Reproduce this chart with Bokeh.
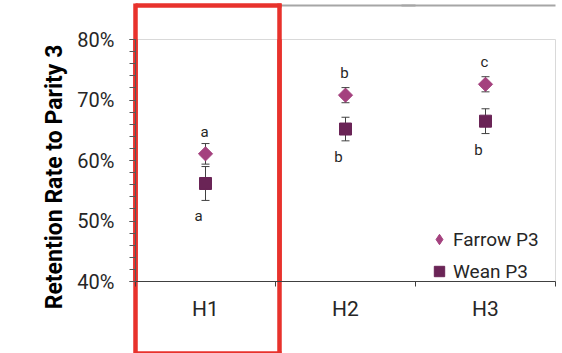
import numpy as np
from bokeh.plotting import figure
from bokeh.models import (Range1d, FixedTicker, NumeralTickFormatter, ColumnDataSource,
                          Whisker, TeeHead, Label, Legend, LegendItem, LinearAxis,
                          CustomJSTickFormatter)
from bokeh.core.properties import value
from bokeh.embed import file_html
from bokeh.resources import INLINE

# ---- data ----
categories = ["H1", "H2", "H3"]
farrow_p3 = [0.611, 0.708, 0.726]
farrow_err = [0.017, 0.0125, 0.0125]
wean_p3 = [0.562, 0.652, 0.665]
wean_err = [0.028, 0.0195, 0.0205]
farrow_letters = ["a", "b", "c"]
wean_letters = ["a", "b", "b"]
y_ticks = [0.4, 0.5, 0.6, 0.7, 0.8]
y_title = "Retention Rate to Parity 3"

FONT = "Roboto"
FARROW_COLOR = "#a4417e"
WEAN_COLOR = "#6a2456"
TEXT_COLOR = "#262626"
RED = "#e8322c"
FRAME_GRAY = "#a6a6a6"

W, H = 562, 353
B_LEFT, B_RIGHT, B_TOP, B_BOTTOM = 135, 7, 39, 72
X0, X1 = 0.5, 3.5
Y0, Y1 = 0.4, 0.8

x = [i + 1 for i in range(len(categories))]

p = figure(width=W, height=H, x_range=Range1d(X0, X1), y_range=Range1d(Y0, Y1),
           output_backend="svg", toolbar_location=None,
           min_border_left=B_LEFT, min_border_right=B_RIGHT,
           min_border_top=B_TOP, min_border_bottom=B_BOTTOM,
           background_fill_color="white", border_fill_color="white",
           outline_line_color="#d9d9d9")
p.xgrid.visible = False
p.ygrid.visible = False

# ---- main x axis ----
xax = p.xaxis[0]
xax.ticker = FixedTicker(ticks=x, minor_ticks=[0.5 + i for i in range(len(categories) + 1)])
xax.major_label_overrides = {xi: c for xi, c in zip(x, categories)}
xax.major_tick_out = 0
xax.major_tick_in = 0
xax.minor_tick_out = 5
xax.minor_tick_in = 0
xax.minor_tick_line_color = "#404040"
xax.axis_line_color = "#404040"
xax.major_label_text_font = FONT
xax.major_label_text_font_size = "21px"
xax.major_label_text_color = TEXT_COLOR
xax.major_label_standoff = 10

# ---- main y axis ----
yax = p.yaxis[0]
yax.ticker = FixedTicker(ticks=y_ticks, minor_ticks=list(np.round(np.arange(0.40, 0.8001, 0.02), 3)))
yax.formatter = NumeralTickFormatter(format="0%")
yax.major_tick_out = 6
yax.major_tick_in = 0
yax.minor_tick_out = 6
yax.minor_tick_in = 0
yax.major_tick_line_color = "#595959"
yax.minor_tick_line_color = "#595959"
yax.axis_line_color = "#595959"
yax.major_label_text_font = FONT
yax.major_label_text_font_size = "20px"
yax.major_label_text_color = TEXT_COLOR
yax.major_label_standoff = 15

# ---- error bars ----
err_src = ColumnDataSource(dict(
    x=x + x,
    upper=[v + e for v, e in zip(farrow_p3, farrow_err)] + [v + e for v, e in zip(wean_p3, wean_err)],
    lower=[v - e for v, e in zip(farrow_p3, farrow_err)] + [v - e for v, e in zip(wean_p3, wean_err)],
))
wh = Whisker(base="x", upper="upper", lower="lower", source=err_src, level="underlay",
             line_color="#404040", line_width=1,
             upper_head=TeeHead(size=8, line_color="#404040", line_width=1),
             lower_head=TeeHead(size=8, line_color="#404040", line_width=1))
p.add_layout(wh)

# ---- markers ----
r_farrow = p.scatter(x=x, y=farrow_p3, marker="square", angle=np.pi / 4, size=10,
                     fill_color=FARROW_COLOR, line_color=FARROW_COLOR)
r_wean = p.scatter(x=x, y=wean_p3, marker="square", size=12,
                   fill_color=WEAN_COLOR, line_color=WEAN_COLOR)
# legend-only diamond (legend glyphs ignore marker angle)
r_farrow_key = p.scatter(x=[np.nan], y=[np.nan], marker="diamond", size=12,
                         fill_color=FARROW_COLOR, line_color=FARROW_COLOR)

# ---- significance letters ----
above_src = ColumnDataSource(dict(x=x, y=farrow_p3, text=farrow_letters))
p.text(x="x", y="y", text="text", source=above_src, x_offset=-1, y_offset=-22,
       text_align="center", text_baseline="middle", text_font=value(FONT),
       text_font_size="15px", text_color=TEXT_COLOR)
below_src = ColumnDataSource(dict(x=x, y=[v - e for v, e in zip(wean_p3, wean_err)], text=wean_letters))
p.text(x="x", y="y", text="text", source=below_src, x_offset=-7, y_offset=16,
       text_align="center", text_baseline="middle", text_font=value(FONT),
       text_font_size="15px", text_color=TEXT_COLOR)

# ---- legend ----
lg = Legend(items=[LegendItem(label="Farrow P3", renderers=[r_farrow_key]),
                   LegendItem(label="Wean P3", renderers=[r_wean])],
            location=(291, -3))
lg.label_text_font = FONT
lg.label_text_font_size = "19px"
lg.label_text_color = TEXT_COLOR
lg.border_line_alpha = 0
lg.background_fill_alpha = 0
lg.padding = 0
lg.margin = 0
lg.spacing = 6
lg.glyph_width = 26
lg.glyph_height = 26
lg.label_standoff = 1
p.add_layout(lg)

# ---- y axis title (side panel + canvas units, so it is not clipped to the frame) ----
title_lbl = Label(x=54, y=176.5, x_units="canvas", y_units="canvas", text=y_title,
                  angle=np.pi / 2, text_align="center", text_baseline="middle",
                  text_font=FONT, text_font_size="23px", text_font_style="bold",
                  text_color="#000000")
p.add_layout(title_lbl, "left")

# ---- decoration: red highlight box around H1 and the outer chart border,
#      drawn with label-less helper axes (axes are not clipped to the frame) ----
frame_top, frame_bottom = B_TOP, H - B_BOTTOM
px_x = (X1 - X0) / (W - B_RIGHT - B_LEFT)
box_left, box_right = 0.5, 1.53          # highlight box (x data units)
box_w = 4.5
top_gap = 34                              # frame top -> top rules
bottom_gap = 30                           # below the category labels -> bottom rule
border_left_px, border_right_px = 10, 558

blank = CustomJSTickFormatter(code="return ''")

def helper_axis(ticks=(), bounds="auto", line_color=None, line_width=1,
                tick_color=None, tick_width=1, tick_in=0, tick_out=0):
    return LinearAxis(ticker=FixedTicker(ticks=list(ticks)), bounds=bounds, formatter=blank,
                      major_label_text_font_size="0px", major_label_standoff=0,
                      axis_line_color=line_color, axis_line_width=line_width,
                      major_tick_line_color=tick_color, major_tick_line_width=tick_width,
                      major_tick_in=tick_in, major_tick_out=tick_out,
                      minor_tick_in=0, minor_tick_out=0, minor_tick_line_color=None)

top_y = frame_top - top_gap
# vertical red sides: ticks reaching down from the frame top and up from the frame bottom
ax_down = helper_axis(ticks=[box_left, box_right], tick_color=RED, tick_width=box_w,
                      tick_in=int(H - frame_top))
ax_up = helper_axis(ticks=[box_left, box_right], tick_color=RED, tick_width=box_w,
                    tick_in=int(round(frame_bottom - (top_y - box_w / 2))))
# spacers that push the rule axes out to the chart edges
sp_top = helper_axis(ticks=[2.0], tick_out=top_gap)
sp_bot = helper_axis(ticks=[2.0], tick_out=bottom_gap)
# outer gray border (top edge)
ax_gray1 = helper_axis(bounds=(X0 - (B_LEFT - border_left_px) * px_x, 2.5),
                       line_color=FRAME_GRAY, line_width=2)
ax_gray2 = helper_axis(bounds=(2.4, X0 + (border_right_px - B_LEFT) * px_x),
                       line_color=FRAME_GRAY, line_width=2)
# red top / bottom sides
pad = box_w / 2 * px_x
ax_red_top = helper_axis(bounds=(box_left - pad, box_right + pad), line_color=RED, line_width=box_w)
ax_red_bot = helper_axis(bounds=(box_left - pad, box_right + pad), line_color=RED, line_width=box_w)

p.above = [ax_down, sp_top, ax_gray1, ax_gray2, ax_red_top]
p.below = [ax_up, xax, sp_bot, ax_red_bot]

open("out.html", "w").write(file_html(p, INLINE))
